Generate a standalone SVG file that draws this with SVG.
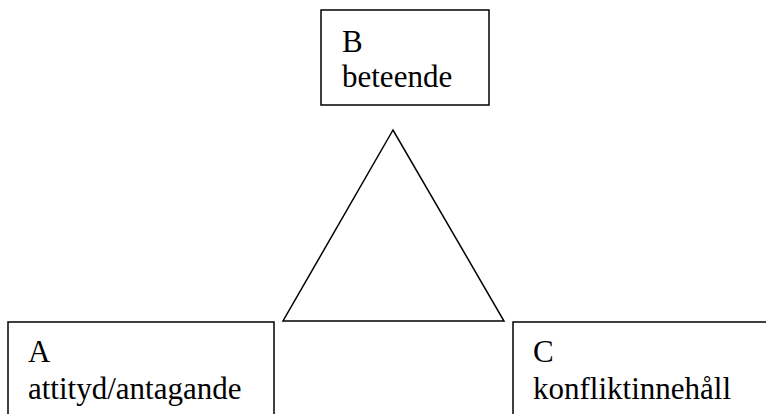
<svg xmlns="http://www.w3.org/2000/svg" width="766" height="414" viewBox="0 0 766 414">
<style>
.box{fill:#fff;stroke:#000;stroke-width:1.5}
.t{font-family:"Liberation Serif","Times New Roman",serif;font-size:31px;fill:#000}
</style>
<rect width="766" height="414" fill="#fff"/>
<g id="connectors">
<polygon points="393,130 283,321 504,321" fill="none" stroke="#000" stroke-width="1.5"/>
</g>
<g id="B">
<rect class="box" x="321" y="10" width="168" height="95"/>
<text class="t" x="342" y="52">B</text>
<text class="t" x="342" y="87">beteende</text>
</g>
<g id="A">
<rect class="box" x="8" y="322" width="266" height="100"/>
<text class="t" x="28" y="362">A</text>
<text class="t" x="28" y="399">attityd/antagande</text>
</g>
<g id="C">
<rect class="box" x="513" y="322" width="260" height="100"/>
<text class="t" x="533" y="362">C</text>
<text class="t" x="533" y="399">konfliktinnehåll</text>
</g>
</svg>
